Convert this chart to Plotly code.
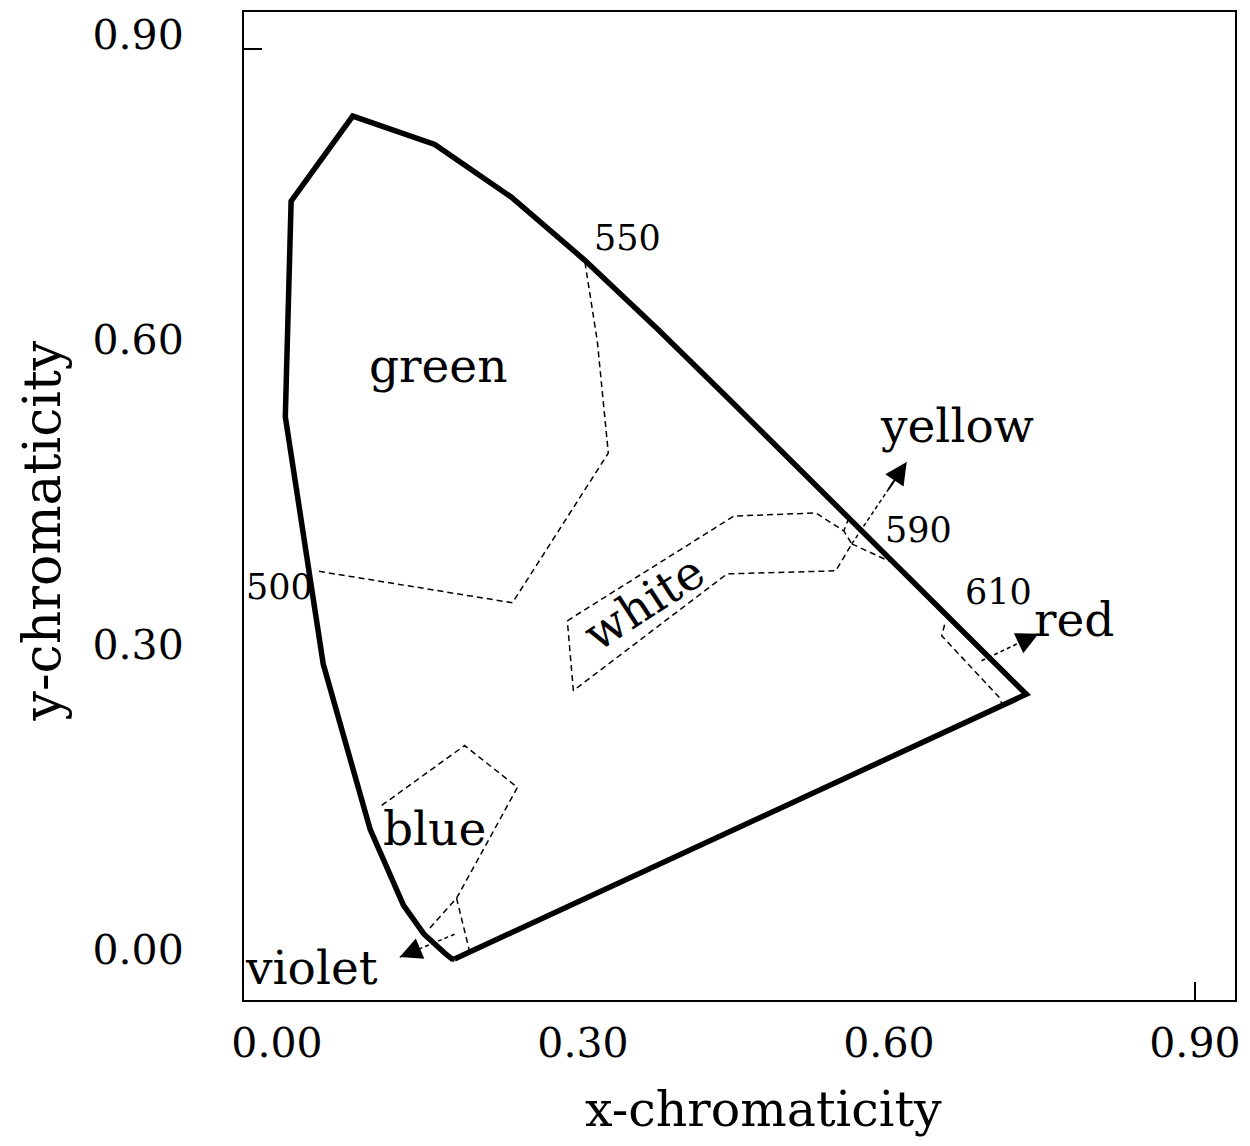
import plotly.graph_objects as go

# ---- data ----
WAVELENGTH = [380, 420, 440, 450, 460, 470, 480, 490, 500, 510, 520, 530, 540, 550,
              560, 570, 580, 590, 600, 610, 620, 700]
LOCUS_X = [0.1741, 0.1714, 0.1644, 0.1566, 0.1440, 0.1241, 0.0913, 0.0454, 0.0082, 0.0139,
           0.0743, 0.1547, 0.2296, 0.3016, 0.3731, 0.4441, 0.5125, 0.5752, 0.6270, 0.6658,
           0.6915, 0.7347]
LOCUS_Y = [0.0050, 0.0051, 0.0109, 0.0177, 0.0297, 0.0578, 0.1327, 0.2950, 0.5384, 0.7502,
           0.8338, 0.8059, 0.7543, 0.6923, 0.6245, 0.5547, 0.4866, 0.4242, 0.3725, 0.3340,
           0.3083, 0.2653]

GREEN_X = [0.302, 0.3141, 0.3249, 0.2309, 0.0382]
GREEN_Y = [0.690, 0.6124, 0.5025, 0.3553, 0.3867]

WHITE_X = [0.2847, 0.4481, 0.5284, 0.5558, 0.5636, 0.5479, 0.4413, 0.2906, 0.2847]
WHITE_Y = [0.3376, 0.4406, 0.4436, 0.4259, 0.4132, 0.3867, 0.3837, 0.2689, 0.3376]

YELLOW_X = [0.5606, 0.5558, None, 0.5636, 0.605]
YELLOW_Y = [0.4387, 0.4259, None, 0.4132, 0.394]

RED_X = [0.6546, 0.6517, 0.7084, 0.7114]
RED_Y = [0.3337, 0.3229, 0.2620, 0.2542]

BLUE_X = [0.1027, 0.1840, 0.2358, 0.1761, 0.1497, None, 0.1761, 0.1888]
BLUE_Y = [0.1560, 0.2149, 0.1737, 0.0648, 0.0353, None, 0.0648, 0.0128]

# arrows: (tail x, tail y, head x, head y)
ARROWS = {
    "yellow": (0.5636, 0.4132, 0.6174, 0.4936),
    "red": (0.6908, 0.2983, 0.7466, 0.3248),
    "violet": (0.1742, 0.0294, 0.1204, 0.0069),
}

REGION_LABELS = ["green", "yellow", "white", "red", "blue", "violet"]
REGION_LX = [0.1575, 0.6663, 0.3601, 0.7818, 0.1546, 0.0342]
REGION_LY = [0.5885, 0.5300, 0.3553, 0.3390, 0.1330, -0.0030]
REGION_ANGLE = [0, 0, -33, 0, 0, 0]

WL_LABELS = ["550", "590", "610", "500"]
WL_LX = [0.3434, 0.6292, 0.7074, 0.0029]
WL_LY = [0.7140, 0.4270, 0.3660, 0.3710]

TICKS = [0.0, 0.3, 0.6, 0.9]
TICK_TEXT = ["0.00", "0.30", "0.60", "0.90"]
INNER_TICKS = [0.9]

XRANGE = [-0.0323, 0.9393]
YRANGE = [-0.0353, 0.9362]

FONT = "DejaVu Serif"

fig = go.Figure()

dash_style = dict(color="black", width=1.5, dash="6px,4px")

for xs, ys in [(GREEN_X, GREEN_Y), (WHITE_X, WHITE_Y), (YELLOW_X, YELLOW_Y),
               (RED_X, RED_Y), (BLUE_X, BLUE_Y)]:
    fig.add_trace(go.Scatter(x=xs, y=ys, mode="lines", line=dash_style,
                             hoverinfo="skip", showlegend=False))

# arrow shafts (dashed)
for name, (tx, ty, hx, hy) in ARROWS.items():
    fig.add_trace(go.Scatter(x=[tx, hx], y=[ty, hy], mode="lines",
                             line=dict(color="black", width=1.5, dash="4px,3px"),
                             hoverinfo="skip", showlegend=False))

# spectral locus, closed by the purple line
fig.add_trace(go.Scatter(x=LOCUS_X + [LOCUS_X[0]], y=LOCUS_Y + [LOCUS_Y[0]],
                         mode="lines", line=dict(color="black", width=5.5),
                         text=[str(w) for w in WAVELENGTH] + [str(WAVELENGTH[0])],
                         hoverinfo="text", showlegend=False))

# empty trace for the overlay axes carrying the inner tick marks
fig.add_trace(go.Scatter(x=[], y=[], xaxis="x2", yaxis="y2", showlegend=False))

annotations = []
for name, (tx, ty, hx, hy) in ARROWS.items():
    annotations.append(dict(
        x=hx, y=hy, ax=hx - (hx - tx) * 0.35, ay=hy - (hy - ty) * 0.35,
        xref="x", yref="y", axref="x", ayref="y",
        showarrow=True, arrowhead=2, arrowsize=2.2, arrowwidth=2.0,
        arrowcolor="black", text=""))

for t, x, y, a in zip(REGION_LABELS, REGION_LX, REGION_LY, REGION_ANGLE):
    annotations.append(dict(x=x, y=y, xref="x", yref="y", text=t, showarrow=False,
                            textangle=a, xanchor="center", yanchor="middle",
                            font=dict(family=FONT, size=47, color="black")))

for t, x, y in zip(WL_LABELS, WL_LX, WL_LY):
    annotations.append(dict(x=x, y=y, xref="x", yref="y", text=t, showarrow=False,
                            xanchor="center", yanchor="middle",
                            font=dict(family=FONT, size=35, color="black")))

# axis titles
annotations.append(dict(x=0.5247, y=-0.111, xref="paper", yref="paper",
                        text="x-chromaticity", showarrow=False,
                        xanchor="center", yanchor="middle",
                        font=dict(family=FONT, size=49, color="black")))
annotations.append(dict(x=-0.2034, y=0.4747, xref="paper", yref="paper",
                        text="y-chromaticity", showarrow=False, textangle=-90,
                        xanchor="center", yanchor="middle",
                        font=dict(family=FONT, size=52, color="black")))

axis_common = dict(showgrid=False, zeroline=False, showline=True, linecolor="black",
                   linewidth=2, mirror=True, ticks="",
                   tickfont=dict(family=FONT, size=41, color="black"),
                   tickvals=TICKS, ticktext=TICK_TEXT)

fig.update_layout(
    width=1250, height=1146,
    margin=dict(l=244, r=13, t=10, b=146),
    paper_bgcolor="white", plot_bgcolor="white",
    xaxis=dict(range=XRANGE, ticklabelstandoff=6, **axis_common),
    yaxis=dict(range=YRANGE, ticklabelstandoff=50, ticklabelshift=-14, **axis_common),
    xaxis2=dict(range=XRANGE, overlaying="x", anchor="y2", side="bottom",
                tickvals=INNER_TICKS, ticks="inside", ticklen=18, tickwidth=2,
                tickcolor="black", showticklabels=False, showgrid=False,
                zeroline=False, showline=False),
    yaxis2=dict(range=YRANGE, overlaying="y", anchor="x2", side="left",
                tickvals=INNER_TICKS, ticks="inside", ticklen=18, tickwidth=2,
                tickcolor="black", showticklabels=False, showgrid=False,
                zeroline=False, showline=False),
    annotations=annotations,
    showlegend=False,
)

fig.write_html("out.html")
